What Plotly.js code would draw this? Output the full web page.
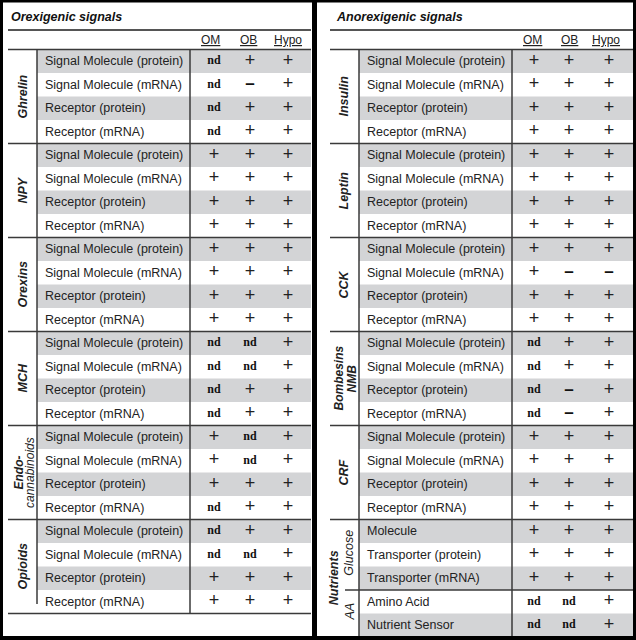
<!DOCTYPE html>
<html><head><meta charset="utf-8">
<script src="https://cdn.plot.ly/plotly-3.0.1.min.js"></script>
<style>html,body{margin:0;padding:0;background:#fff}#chart{width:636px;height:640px}</style>
</head><body><div id="chart"></div>
<script>
// ---------------- DATA ----------------
const columns = ["OM", "OB", "Hypo"];
const leftTitle = "Orexigenic signals";
const rightTitle = "Anorexigenic signals";

const stdRows = ["Signal Molecule (protein)", "Signal Molecule (mRNA)", "Receptor (protein)", "Receptor (mRNA)"];

const leftGroups = [["Ghrelin"], ["NPY"], ["Orexins"], ["MCH"], ["Endo-", "cannabinoids"], ["Opioids"]];
const leftGroupSizes = [4, 4, 4, 4, 4, 4];
const leftRowLabels = [].concat(stdRows, stdRows, stdRows, stdRows, stdRows, stdRows);
const leftOM = ["nd","nd","nd","nd", "+","+","+","+", "+","+","+","+", "nd","nd","nd","nd", "+","+","+","nd", "nd","nd","+","+"];
const leftOB = ["+","−","+","+", "+","+","+","+", "+","+","+","+", "nd","nd","+","+", "nd","nd","+","+", "+","nd","+","+"];
const leftHypo = ["+","+","+","+", "+","+","+","+", "+","+","+","+", "+","+","+","+", "+","+","+","+", "+","+","+","+"];

const rightGroups = [["Insulin"], ["Leptin"], ["CCK"], ["Bombesins", "NMB"], ["CRF"], ["Nutrients"]];
const rightGroupSizes = [4, 4, 4, 4, 4, 5];
const rightSubGroups = ["Glucose", "AA"];
const rightSubGroupSizes = [3, 2];
const rightRowLabels = [].concat(stdRows, stdRows, stdRows, stdRows, stdRows,
  ["Molecule", "Transporter (protein)", "Transporter (mRNA)", "Amino Acid", "Nutrient Sensor"]);
const rightOM = ["+","+","+","+", "+","+","+","+", "+","+","+","+", "nd","nd","nd","nd", "+","+","+","+", "+","+","+","nd","nd"];
const rightOB = ["+","+","+","+", "+","+","+","+", "+","−","+","+", "+","+","−","−", "+","+","+","+", "+","+","+","nd","nd"];
const rightHypo = ["+","+","+","+", "+","+","+","+", "+","−","+","+", "+","+","+","+", "+","+","+","+", "+","+","+","+","+"];

// ---------------- LAYOUT CONFIG ----------------
const TOP = 49.5, RH = 23.5;
const TXT = "#222";
const SANS = "Liberation Sans, Arial, sans-serif";
const SERIF = "Liberation Serif, Times New Roman, serif";
const STRIPE = "#d3d4d6";
const LINE = "#3a3a3a";

const panels = [
  {title: leftTitle, groups: leftGroups, sizes: leftGroupSizes, labels: leftRowLabels,
   vals: [leftOM, leftOB, leftHypo], x0: 8, x1: 311, gLine: 37, gLineEnd: 604, gX: 22, gX2: [18, 29.5],
   labX: 43, vLine: 190, colX: [214, 250, 288], headX: [210, 248, 288], titleX: 9},
  {title: rightTitle, groups: rightGroups, sizes: rightGroupSizes, labels: rightRowLabels,
   vals: [rightOM, rightOB, rightHypo], x0: 330, x1: 633, gLine: 359, gLineEnd: null, gX: 343, gX2: [338, 351],
   labX: 365, vLine: 512, colX: [534, 569, 609], headX: [532, 569, 606], titleX: 334,
   sub: {names: rightSubGroups, sizes: rightSubGroupSizes, x: 349, mainX: 334, sepX0: 345}}
];

const yOf = i => TOP + (i + 0.5) * RH;
const yEdge = i => TOP + i * RH;

const shapes = [];
const annotations = [];
const traces = [];

panels.forEach((p, pi) => {
  const n = p.labels.length;
  for (let i = 0; i < n; i += 2) {
    shapes.push({type: "rect", xref: "x", yref: "y", x0: p.gLine, x1: p.x1, y0: yEdge(i), y1: yEdge(i + 1),
      fillcolor: STRIPE, line: {width: 0}, layer: "below"});
  }
  shapes.push({type: "line", x0: p.x0, x1: p.x1, y0: 30, y1: 30, line: {color: "#555", width: 2}});
  shapes.push({type: "line", x0: p.x0, x1: p.x1, y0: TOP, y1: TOP, line: {color: LINE, width: 1.5}});
  let start = 0;
  const isSub = !!p.sub;
  p.sizes.forEach((s, g) => {
    const end = start + s;
    shapes.push({type: "line", x0: p.x0, x1: p.x1, y0: yEdge(end), y1: yEdge(end), line: {color: LINE, width: 1.5}});
    const yc = (yEdge(start) + yEdge(end)) / 2;
    const lines = p.groups[g];
    const isNutr = isSub && g === p.sizes.length - 1;
    if (isNutr) {
      annotations.push({x: p.sub.mainX, y: yc, text: "<b><i>" + lines[0] + "</i></b>", textangle: -90,
        showarrow: false, font: {family: SANS, size: 12.5, color: TXT}});
      let ss = start;
      p.sub.sizes.forEach((k, j) => {
        const se = ss + k;
        const syc = (yEdge(ss) + yEdge(se)) / 2;
        annotations.push({x: p.sub.x, y: syc - 2, text: "<i>" + p.sub.names[j] + "</i>", textangle: -90,
          showarrow: false, font: {family: SANS, size: 12.5, color: TXT}});
        if (j < p.sub.sizes.length - 1) {
          shapes.push({type: "line", x0: p.sub.sepX0, x1: p.x1, y0: yEdge(se), y1: yEdge(se), line: {color: LINE, width: 1.5}});
        }
        ss = se;
      });
    } else if (lines.length === 1) {
      annotations.push({x: p.gX, y: yc, text: "<b><i>" + lines[0] + "</i></b>", textangle: -90,
        showarrow: false, font: {family: SANS, size: 12.5, color: TXT}});
    } else {
      lines.forEach((t, k) => {
        const bold = pi === 1 || k === 0;
        annotations.push({x: p.gX2[k], y: yc, text: bold ? "<b><i>" + t + "</i></b>" : "<i>" + t + "</i>", textangle: -90,
          showarrow: false, font: {family: SANS, size: 12, color: TXT}});
      });
    }
    start = end;
  });
  shapes.push({type: "line", x0: p.gLine, x1: p.gLine, y0: TOP, y1: p.gLineEnd || yEdge(n), line: {color: LINE, width: 1.5}});
  shapes.push({type: "line", x0: p.vLine, x1: p.vLine, y0: TOP, y1: yEdge(n), line: {color: LINE, width: 1.5}});
  annotations.push({x: p.titleX, y: 17, xanchor: "left", text: "<b><i>" + p.title + "</i></b>",
    showarrow: false, font: {family: SANS, size: 12.5, color: "#111"}});
  columns.forEach((c, k) => {
    annotations.push({x: p.headX[k], y: 40, text: "<u>" + c + "</u>", showarrow: false,
      font: {family: SANS, size: 12, color: TXT}});
  });
  p.labels.forEach((l, i) => {
    annotations.push({x: p.labX, y: yOf(i), xanchor: "left", text: l, showarrow: false,
      font: {family: SANS, size: 12.5, color: TXT}});
  });
  const kinds = [
    {v: "+", text: "+", font: {family: SANS, size: 18, color: TXT}},
    {v: "−", text: "<b>–</b>", font: {family: SANS, size: 17, color: "#111"}},
    {v: "nd", text: "<b>nd</b>", font: {family: SERIF, size: 12, color: "#111"}}
  ];
  kinds.forEach(kd => {
    const xs = [], ys = [], ts = [];
    p.vals.forEach((col, k) => {
      col.forEach((v, i) => {
        if (v === kd.v) { xs.push(p.colX[k]); ys.push(yOf(i)); ts.push(kd.text); }
      });
    });
    traces.push({type: "scatter", mode: "text", x: xs, y: ys, text: ts, textposition: "middle center",
      textfont: kd.font, hoverinfo: "skip", showlegend: false, cliponaxis: false});
  });
});

[[0, 636, 0, 2.5], [0, 3, 0, 640], [633, 636, 0, 640], [0, 636, 636, 640], [312, 317, 0, 640]].forEach(b => {
  shapes.push({type: "rect", x0: b[0], x1: b[1], y0: b[2], y1: b[3], fillcolor: "#000", line: {width: 0}});
});

const layout = {
  width: 636, height: 640,
  margin: {l: 0, r: 0, t: 0, b: 0, pad: 0},
  paper_bgcolor: "#fff", plot_bgcolor: "#fff",
  xaxis: {range: [0, 636], visible: false, fixedrange: true},
  yaxis: {range: [640, 0], visible: false, fixedrange: true},
  shapes: shapes, annotations: annotations, showlegend: false, hovermode: false
};

Plotly.newPlot("chart", traces, layout, {staticPlot: true, displayModeBar: false});
</script>
</body></html>
